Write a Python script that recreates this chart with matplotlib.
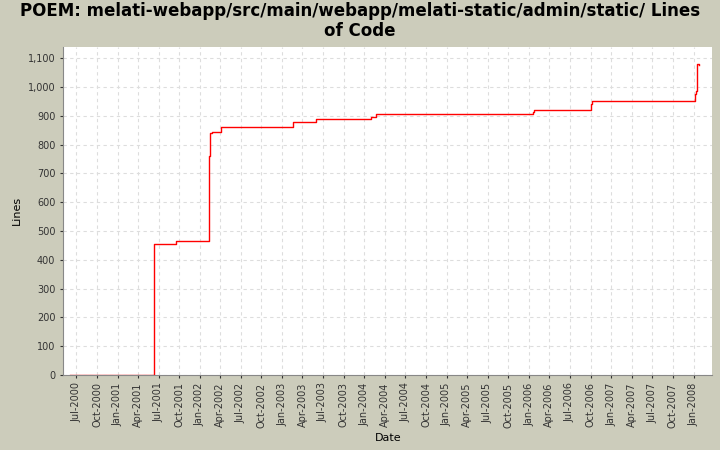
import matplotlib
matplotlib.use("Agg")
import matplotlib.pyplot as plt
import matplotlib.dates as mdates
import pandas as pd

dates = ["2000-06-01", "2001-06-12", "2001-09-18", "2002-02-12", "2002-02-16", "2002-02-25",
         "2002-04-05", "2003-02-20", "2003-06-01", "2004-02-01", "2004-02-20",
         "2006-01-20", "2006-01-25", "2006-10-05", "2006-10-08", "2008-01-08",
         "2008-01-12", "2008-01-16", "2008-01-25"]
lines = [0, 456, 465, 760, 840, 845, 860, 880, 888, 897, 905, 915, 922, 940, 950, 975, 985, 1080, 1078]
ticks = pd.date_range("2000-07-01", "2008-01-01", freq="3MS")

x = pd.to_datetime(dates)
bg = "#CCCCBB"
fig = plt.figure(figsize=(7.2, 4.5), dpi=100, facecolor=bg)
ax = fig.add_axes([0.0875, 0.167, 0.902, 0.729])
ax.step(x, lines, where="post", color="red", lw=1)
ax.set_xlim(pd.Timestamp("2000-05-03"), pd.Timestamp("2008-03-25"))
ax.set_ylim(0, 1140)
ax.set_yticks(range(0, 1101, 100))
ax.set_yticklabels([f"{v:,}" for v in range(0, 1101, 100)], fontsize=7)
ax.set_xticks(ticks)
ax.set_xticklabels([t.strftime("%b-%Y") for t in ticks], rotation=90, fontsize=7)
ax.grid(True, color="#DDDDDD", ls=(0, (3, 3)), lw=0.8)
for s in ["top", "right"]:
    ax.spines[s].set_visible(False)
ax.spines["left"].set_color("#888888")
ax.spines["bottom"].set_color("#888888")
ax.tick_params(length=2, colors="#333333")
ax.set_xlabel("Date", fontsize=8)
ax.set_ylabel("Lines", fontsize=8)
fig.text(0.5, 0.995, "POEM: melati-webapp/src/main/webapp/melati-static/admin/static/ Lines\nof Code",
         ha="center", va="top", fontsize=12, fontweight="bold", linespacing=1.1)
fig.savefig("out.png", dpi=100, facecolor=bg)
